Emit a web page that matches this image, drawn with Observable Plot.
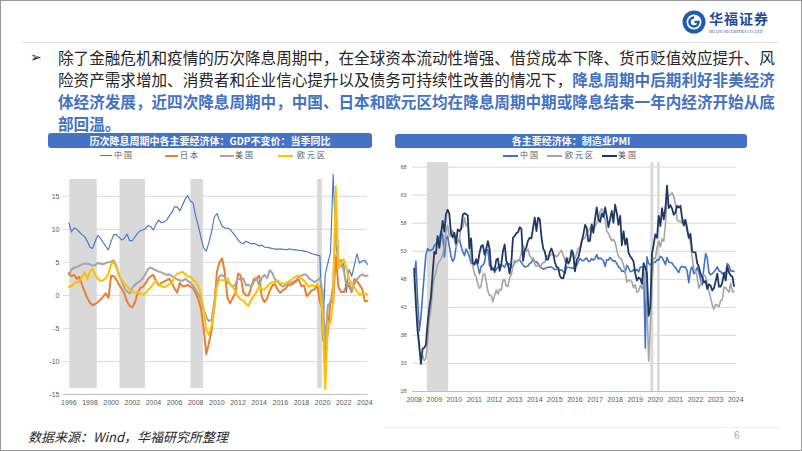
<!DOCTYPE html>
<html lang="zh-CN">
<head>
<meta charset="utf-8">
<script src="https://cdn.jsdelivr.net/npm/d3@7"></script>
<script src="https://cdn.jsdelivr.net/npm/@observablehq/plot@0.6"></script>
<style>
html,body{margin:0;padding:0;background:#fff;}
#slide{position:relative;width:802px;height:451px;box-sizing:border-box;border:1px solid #9a9a9a;overflow:hidden;font-family:"Noto Sans CJK SC","Noto Sans",sans-serif;background:#fff;}
.abs{position:absolute;}
#hdrline{left:20px;top:41px;width:758px;height:1px;background:#e6e6e6;}
#bullet{left:29px;top:45px;font-family:"DejaVu Sans";font-size:14px;color:#262626;line-height:22px;}
#body{left:57px;top:45px;font-size:16px;line-height:22px;color:#262626;}
#body .ln{display:block;white-space:nowrap;transform:scaleX(0.974);transform-origin:0 50%;}
#body .hl{color:#4472C4;font-weight:700;}
.tbar{background:#4472C4;color:#fff;font-weight:700;font-size:10px;text-align:center;border-radius:3px;line-height:15px;height:15px;white-space:nowrap;}
.legtxt{font-size:8px;color:#595959;letter-spacing:2px;line-height:10px;white-space:nowrap;}
.sw{height:0;}
#foot{left:27px;top:427px;font-size:13px;font-style:italic;color:#262626;line-height:18px;white-space:nowrap;}
#pg{left:733px;top:429px;font-size:10px;color:#a6a6a6;font-family:"Liberation Sans";}
#footline{left:383px;top:426px;width:395px;height:1px;background:#eeeeee;}
.chart{position:absolute;}
.chart svg{overflow:visible;}
</style>
</head>
<body>
<div id="slide">
  <svg class="abs" style="left:681px;top:9px" width="24" height="24" viewBox="0 0 24 24">
    <circle cx="12" cy="12" r="11.5" fill="#1f5bb5"/>
    <circle cx="12" cy="12" r="7.5" fill="#fff"/>
    <path d="M12 7.5 A4.5 4.5 0 1 0 16.5 12 L12.5 12" fill="none" stroke="#1f5bb5" stroke-width="2.6"/>
  </svg>
  <div class="abs" style="left:708px;top:9px;font-size:14px;font-weight:700;color:#1e4b9b;letter-spacing:1px;line-height:17px;font-family:'Noto Sans CJK SC'">华福证券</div>
  <div class="abs" style="left:708px;top:28px;font-size:4px;color:#1e4b9b;line-height:5px;white-space:nowrap;font-family:'Liberation Serif'">HUAFU SECURITIES CO.,LTD</div>
  <div id="hdrline" class="abs"></div>

  <div id="bullet" class="abs">➢</div>
  <div id="body" class="abs">
    <div class="ln">除了金融危机和疫情的历次降息周期中，在全球资本流动性增强、借贷成本下降、货币贬值效应提升、风</div>
    <div class="ln">险资产需求增加、消费者和企业信心提升以及债务可持续性改善的情况下，<span class="hl">降息周期中后期利好非美经济</span></div>
    <div class="ln hl">体经济发展，近四次降息周期中，中国、日本和欧元区均在降息周期中期或降息结束一年内经济开始从底</div>
    <div class="ln hl">部回温。</div>
  </div>

  <div class="abs tbar" style="left:47px;top:132px;width:324px;">历次降息周期中各主要经济体：GDP不变价：当季同比</div>
  <div class="abs tbar" style="left:394px;top:133px;width:352px;height:14px;line-height:14px;">各主要经济体：制造业PMI</div>

  <div id="legL"></div>
  <div id="legR"></div>

  <div id="chartL" class="chart" style="left:19px;top:159px;"></div>
  <div id="chartR" class="chart" style="left:394px;top:159px;"></div>

  <div id="footline" class="abs"></div>
  <div id="foot" class="abs">数据来源：Wind，华福研究所整理</div>
  <div id="pg" class="abs">6</div>
</div>

<script>
// ---------------- Left chart data: quarterly real GDP YoY (%), 1996Q1 – 2024Q2 ----------------
const gdpFirstQuarter = "1996-01-01";
const gdpSeriesNames = ["中国", "日本", "美国", "欧元区"];
const gdpChina = [
  11.0, 9.6, 10.2, 10.0,   9.6, 9.2, 8.9, 8.2,   7.3, 7.1, 8.2, 9.1,   8.6, 8.0, 7.4, 6.9,
  8.2, 9.2, 9.2, 8.8,   8.4, 8.6, 9.3, 8.3,   8.3, 8.8, 9.4, 9.8,   9.9, 10.1, 10.6, 10.4,
  9.9, 10.8, 11.4, 11.0,   11.1, 11.4, 12.0, 12.6,   13.4, 13.4, 12.8, 13.6,   14.6, 15.1, 14.3, 14.0,
  12.0, 10.5, 8.8, 7.2,   6.7, 8.0, 9.6, 11.8,   12.4, 11.4, 10.5, 10.2,   10.2, 10.0, 9.5, 9.0,
  8.4, 8.0, 7.8, 8.2,   8.0, 7.8, 7.9, 7.7,   7.5, 7.6, 7.3, 7.3,   7.2, 7.1, 7.0, 7.0,
  7.0, 7.0, 6.9, 7.0,   7.0, 6.9, 6.9, 6.8,   6.8, 6.7, 6.6, 6.5,   6.3, 6.2, 6.1, 6.0,
  -6.8, 3.2, 4.9, 6.5,   18.3, 7.9, 4.9, 4.3,   4.8, 0.4, 3.9, 2.9,   4.5, 6.3, 4.9, 5.2,
  5.3, 4.7
];
const gdpJapan = [
  3.4, 2.9, 3.1, 2.5,   2.8, 1.6, 0.6, -0.4,   -1.1, -1.5, -1.3, -1.0,   -0.6, -0.2, 0.3, -0.4,
  3.0, 2.9, 2.4, 1.6,   1.0, 0.3, -0.9, -1.6,   -1.8, -1.1, 0.3, 1.1,   1.3, 1.8, 2.5, 2.9,
  3.1, 2.2, 1.5, 1.9,   2.1, 2.3, 2.5, 1.9,   1.0, 0.4, 1.9, 1.4,   1.4, 1.6, 1.3, 1.1,
  0.3, -0.6, -2.0, -5.0,   -8.9, -7.2, -5.4, -1.9,   3.5, 5.0, 5.6, 3.5,   -0.4, -1.2, -0.4, 0.3,
  3.3, 3.0, 0.5, 0.0,   0.0, 1.2, 2.5, 2.6,   3.0, -0.2, -1.0, -0.5,   0.7, 1.5, 1.7, 0.9,
  0.4, 0.8, 1.0, 1.6,   1.6, 1.8, 2.1, 2.4,   1.4, 1.5, -0.1, 0.3,   0.8, 0.9, 1.7, -1.0,
  -2.0, -10.0, -5.4, -0.8,   -1.2, 6.0, 1.3, 0.5,   0.5, 1.5, 1.4, 0.5,   2.5, 2.2, 1.6, 1.0,
  -0.9, -0.8
];
const gdpUS = [
  3.1, 3.9, 4.2, 4.3,   4.5, 4.7, 4.8, 4.8,   4.7, 4.5, 4.6, 4.9,   4.8, 4.7, 4.9, 5.0,
  5.1, 5.3, 4.5, 3.0,   2.3, 1.2, 0.6, 0.3,   1.1, 1.6, 1.9, 2.2,   2.6, 3.2, 4.0, 4.2,
  4.0, 3.8, 3.6, 3.5,   3.3, 3.1, 3.2, 2.9,   2.7, 2.4, 2.3, 2.2,   2.5, 2.2, 1.9, 1.5,
  0.8, 0.2, -0.6, -2.2,   -3.3, -3.9, -3.7, -1.1,   1.9, 2.9, 3.1, 2.8,   1.9, 1.7, 1.3, 1.7,
  2.6, 2.4, 2.6, 1.5,   1.6, 1.3, 2.0, 2.6,   1.5, 2.6, 3.1, 2.6,   3.8, 3.4, 2.4, 2.2,
  1.6, 1.3, 1.6, 2.0,   1.9, 2.1, 2.3, 2.8,   3.0, 3.2, 3.1, 2.5,   2.3, 2.0, 2.3, 2.6,
  0.7, -7.5, -1.5, -1.1,   1.6, 12.0, 5.0, 5.4,   3.7, 1.8, 1.9, 0.9,   1.7, 2.4, 2.9, 3.2,
  2.9, 3.0
];
const gdpEuro = [
  1.3, 1.4, 1.8, 2.0,   2.0, 2.8, 3.5, 2.5,   3.6, 4.0, 3.1, 2.5,   2.2, 2.3, 2.6, 3.3,
  4.7, 5.0, 4.2, 3.0,   2.4, 1.8, 1.4, 0.9,   0.6, 0.4, 0.5, 0.2,   0.1, 0.3, 0.9, 1.2,
  1.8, 2.2, 1.7, 1.4,   1.2, 1.4, 1.7, 1.9,   2.8, 3.3, 3.4, 3.6,   3.2, 2.8, 2.9, 2.3,
  2.1, 1.4, 0.2, -2.0,   -5.2, -6.0, -4.6, -2.2,   1.2, 2.3, 2.3, 2.3,   2.6, 1.7, 1.3, 0.6,
  -0.2, -0.6, -0.8, -1.2,   -1.6, -0.6, -0.1, 0.5,   1.4, 0.9, 0.9, 1.3,   1.8, 2.0, 2.0, 2.2,
  1.9, 1.8, 1.8, 2.1,   2.3, 2.6, 2.9, 3.0,   2.5, 2.2, 1.7, 1.3,   1.6, 1.3, 1.7, 1.1,
  -3.0, -14.2, -4.0, -4.2,   -0.8, 16.5, 4.0, 4.8,   5.5, 4.2, 2.5, 1.8,   1.3, 0.6, 0.1, 0.2,
  0.3, 0.1
];
const gdpCutPeriods = [
  ["1996-02-01", "1998-09-10"],
  ["2000-11-01", "2003-04-01"],
  ["2007-07-22", "2008-09-28"],
  ["2019-07-15", "2019-12-25"]
];
const gdpTickYears = [1996,1998,2000,2002,2004,2006,2008,2010,2012,2014,2016,2018,2020,2022,2024];
const gdpYTicks = [-15, -10, -5, 0, 5, 10, 15];

// ---------------- Right chart data: monthly manufacturing PMI, 2008-08 – 2024-07 ----------------
const pmiFirstMonth = "2008-08-01";
const pmiSeriesNames = ["中国", "欧元区", "美国"];
const pmiChina = [
  48.4, 51.2, 44.6, 38.8, 41.2,
  45.3, 49.0, 52.4, 53.5, 53.1, 53.2, 53.3, 54.0, 54.3, 55.2, 55.2, 56.6,
  55.8, 52.0, 55.1, 55.7, 53.9, 52.1, 51.2, 51.7, 53.8, 54.7, 55.2, 53.9,
  52.9, 52.2, 53.4, 52.9, 52.0, 50.9, 50.7, 50.9, 51.2, 50.4, 49.0, 50.3,
  50.5, 51.0, 53.1, 53.3, 50.4, 50.2, 50.1, 49.2, 49.8, 50.2, 50.6, 50.6,
  50.4, 50.1, 50.9, 50.6, 50.8, 50.1, 50.3, 51.0, 51.1, 51.4, 51.4, 51.0,
  50.5, 50.2, 50.3, 50.4, 50.8, 51.0, 51.7, 51.1, 51.1, 50.8, 50.3, 50.1,
  49.8, 49.9, 50.1, 50.1, 50.2, 50.2, 50.0, 49.7, 49.8, 49.8, 49.6, 49.7,
  49.4, 49.0, 50.2, 50.1, 50.1, 50.0, 49.9, 50.4, 50.4, 51.2, 51.7, 51.4,
  51.3, 51.6, 51.8, 51.2, 51.2, 51.7, 51.4, 51.7, 52.4, 51.6, 51.8, 51.6,
  51.3, 50.3, 51.5, 51.4, 51.9, 51.5, 51.2, 51.3, 50.8, 50.2, 50.0, 49.4,
  49.5, 49.2, 50.5, 50.1, 49.4, 49.4, 49.7, 49.5, 49.8, 49.3, 50.2, 50.2,
  50.0, 35.7, 52.0, 50.8, 50.6, 50.9, 51.1, 51.0, 51.5, 51.4, 52.1, 51.9,
  51.3, 50.6, 51.9, 51.1, 51.0, 50.9, 50.4, 50.1, 49.6, 49.2, 50.1, 50.3,
  50.1, 50.2, 49.5, 47.4, 49.6, 50.2, 49.0, 49.4, 50.1, 49.2, 48.0, 47.0,
  50.1, 52.6, 51.9, 49.2, 48.8, 49.0, 49.3, 49.7, 50.2, 49.5, 49.4, 49.0,
  49.2, 49.1, 50.8, 50.4, 49.5, 49.5, 49.4
];
const pmiEuro = [
  47.6, 45.0, 41.1, 35.6, 33.9,
  34.4, 33.5, 33.9, 36.8, 40.7, 42.6, 46.3, 48.2, 49.3, 50.7, 51.2, 51.6,
  52.4, 54.2, 56.6, 57.6, 55.8, 55.6, 56.7, 55.1, 53.7, 54.6, 55.3, 57.1,
  57.3, 59.0, 57.5, 58.0, 54.6, 52.0, 50.4, 49.0, 48.5, 47.1, 46.4, 46.9,
  48.8, 49.0, 47.7, 45.9, 45.1, 45.1, 44.0, 45.1, 46.1, 45.4, 46.2, 46.1,
  47.9, 47.9, 46.8, 46.7, 48.3, 48.8, 50.3, 51.4, 51.1, 51.3, 51.6, 52.7,
  54.0, 53.2, 53.0, 53.4, 52.2, 51.8, 51.8, 50.7, 50.3, 50.6, 50.1, 50.6,
  51.0, 51.0, 52.2, 52.0, 52.2, 52.5, 52.4, 52.3, 52.0, 52.3, 52.8, 53.2,
  52.3, 51.2, 51.6, 51.7, 51.5, 52.8, 52.0, 51.7, 52.6, 53.5, 53.7, 54.9,
  55.2, 55.4, 56.2, 56.7, 57.0, 57.4, 56.6, 57.4, 58.1, 58.5, 60.1, 60.6,
  59.6, 58.6, 56.6, 56.2, 55.5, 54.9, 55.1, 54.6, 53.2, 52.0, 51.8, 51.4,
  50.5, 49.3, 47.5, 47.9, 47.7, 47.6, 46.5, 47.0, 45.7, 45.9, 46.9, 46.3,
  47.9, 49.2, 44.5, 33.4, 39.4, 47.4, 51.8, 51.7, 53.7, 54.8, 53.8, 55.2,
  54.8, 57.9, 62.5, 62.9, 63.1, 63.4, 62.8, 61.4, 58.6, 58.3, 58.4, 58.0,
  58.7, 58.2, 56.5, 55.5, 54.6, 52.1, 49.8, 49.6, 48.4, 46.4, 47.1, 47.8,
  48.8, 48.5, 47.3, 45.8, 44.8, 43.4, 42.7, 43.5, 43.4, 43.1, 44.2, 44.4,
  46.6, 46.5, 46.1, 45.7, 47.3, 45.8, 45.8
];
const pmiUS = [
  49.9, 43.5, 38.9, 36.2, 32.9,
  35.6, 35.8, 36.3, 40.1, 42.8, 44.8, 48.9, 52.9, 52.6, 55.7, 53.6, 55.9,
  58.4, 56.5, 59.6, 60.4, 59.7, 56.2, 55.5, 56.3, 54.4, 56.9, 56.6, 57.0,
  59.5, 59.8, 59.6, 59.4, 53.5, 55.3, 50.9, 50.6, 51.6, 50.8, 52.7, 53.9,
  54.1, 52.4, 53.4, 54.8, 53.5, 49.7, 49.8, 49.6, 51.5, 51.7, 49.5, 50.7,
  53.1, 54.2, 51.3, 50.7, 49.0, 50.9, 55.4, 55.7, 56.2, 56.4, 57.3, 57.0,
  51.3, 53.2, 53.7, 54.9, 55.4, 55.3, 57.1, 59.0, 56.6, 59.0, 58.7, 55.5,
  53.5, 52.9, 51.5, 51.5, 52.8, 53.5, 52.7, 51.1, 50.2, 50.1, 48.6, 48.2,
  48.2, 49.5, 51.8, 50.8, 51.3, 53.2, 52.6, 49.4, 51.5, 51.9, 53.2, 54.7,
  56.0, 57.7, 57.2, 54.8, 54.9, 57.8, 56.3, 58.8, 60.8, 58.7, 58.2, 59.7,
  59.1, 60.8, 59.3, 57.3, 58.7, 60.2, 58.1, 61.3, 59.8, 57.7, 59.3, 54.1,
  56.6, 54.2, 55.3, 52.8, 52.1, 51.7, 51.2, 49.1, 47.8, 48.3, 48.1, 47.2,
  50.9, 50.1, 49.1, 41.5, 43.1, 52.6, 54.2, 56.0, 55.4, 59.3, 57.5, 60.7,
  58.7, 60.8, 64.7, 60.7, 61.2, 60.6, 59.5, 59.9, 61.1, 60.8, 61.1, 58.8,
  57.6, 58.6, 57.1, 55.4, 56.1, 53.0, 52.8, 52.8, 50.9, 50.2, 49.0, 48.4,
  47.4, 47.7, 46.3, 47.1, 46.9, 46.0, 46.4, 47.6, 49.0, 46.7, 46.7, 47.4,
  49.1, 47.8, 50.3, 49.2, 48.7, 48.5, 46.8
];
const pmiCutPeriods = [
  ["2009-03-29", "2010-04-19"],
  ["2020-05-10", "2020-07-04"],
  ["2020-09-10", "2020-10-27"]
];
const pmiTickYears = [2008,2009,2010,2011,2012,2013,2014,2015,2016,2017,2018,2019,2020,2021,2022,2023,2024];
const pmiYTicks = [28, 33, 38, 43, 48, 53, 58, 63, 68];

// ---------------- build tables ----------------
const gdpColors = {"中国": "#4472C4", "日本": "#ED7D31", "美国": "#A5A5A5", "欧元区": "#FFC000"};
const pmiColors = {"中国": "#4472C4", "欧元区": "#A5A5A5", "美国": "#1F3864"};

const q0 = new Date(gdpFirstQuarter);
const gdpRows = [];
[gdpChina, gdpJapan, gdpUS, gdpEuro].forEach((arr, k) => {
  arr.forEach((v, i) => gdpRows.push({date: d3.utcMonth.offset(q0, 3 * i), series: gdpSeriesNames[k], value: v}));
});
const m0 = new Date(pmiFirstMonth);
const pmiRows = [];
[pmiChina, pmiEuro, pmiUS].forEach((arr, k) => {
  arr.forEach((v, i) => pmiRows.push({date: d3.utcMonth.offset(m0, i), series: pmiSeriesNames[k], value: v}));
});
const gdpBands = gdpCutPeriods.map(([a, b]) => ({start: new Date(a), end: new Date(b)}));
const pmiBands = pmiCutPeriods.map(([a, b]) => ({start: new Date(a), end: new Date(b)}));
const gdpTicks = gdpTickYears.map(y => new Date(Date.UTC(y, 0, 1)));
const pmiTicks = pmiTickYears.map(y => new Date(Date.UTC(y, 7, 1)));

const axisFont = "Liberation Sans, Arial, sans-serif";

// ---------------- left chart ----------------
const leftPlot = Plot.plot({
  width: 360, height: 251,
  marginLeft: 43, marginRight: 13, marginTop: 16, marginBottom: 17,
  x: {type: "utc", domain: [new Date("1995-07-01"), new Date("2024-04-01")]},
  y: {domain: [-15, 18]},
  style: {background: "transparent", fontFamily: axisFont, overflow: "visible"},
  marks: [
    Plot.rect(gdpBands, {x1: "start", x2: "end", fill: "#D9D9D9", insetTop: 3, insetBottom: 6}),
    Plot.gridY(gdpYTicks.slice(1), {stroke: "#D9D9D9", strokeOpacity: 1}),
    Plot.ruleY(gdpYTicks.slice(0, 1), {stroke: "#BFBFBF"}),
    Plot.axisY(gdpYTicks, {tickSize: 0, tickPadding: 4, tickFormat: d => `${d}`, fontSize: 7, fill: "#595959", label: null}),
    Plot.axisX(gdpTicks, {tickSize: 0, tickPadding: 6, tickFormat: d3.utcFormat("%Y"), fontSize: 7, fill: "#595959", label: null}),
    Plot.line(gdpRows.filter(d => d.series === "中国"), {x: "date", y: "value", stroke: gdpColors["中国"], strokeWidth: 1.1, strokeLinejoin: "round"}),
    Plot.line(gdpRows.filter(d => d.series === "日本"), {x: "date", y: "value", stroke: gdpColors["日本"], strokeWidth: 2, strokeLinejoin: "round"}),
    Plot.line(gdpRows.filter(d => d.series === "美国"), {x: "date", y: "value", stroke: gdpColors["美国"], strokeWidth: 2, strokeLinejoin: "round"}),
    Plot.line(gdpRows.filter(d => d.series === "欧元区"), {x: "date", y: "value", stroke: gdpColors["欧元区"], strokeWidth: 2, strokeLinejoin: "round"})
  ]
});
document.getElementById("chartL").appendChild(leftPlot);

// ---------------- right chart ----------------
const rightPlot = Plot.plot({
  width: 360, height: 251,
  marginLeft: 17, marginRight: 19, marginTop: 1, marginBottom: 20,
  x: {type: "utc", domain: [new Date("2008-07-01"), new Date("2024-08-15")]},
  y: {domain: [28, 69]},
  style: {background: "transparent", fontFamily: axisFont, overflow: "visible"},
  marks: [
    Plot.rect(pmiBands, {x1: "start", x2: "end", fill: "#D9D9D9", insetTop: 1}),
    Plot.gridY(pmiYTicks.slice(1), {stroke: "#D9D9D9", strokeOpacity: 1}),
    Plot.ruleY(pmiYTicks.slice(0, 1), {stroke: "#BFBFBF"}),
    Plot.axisY(pmiYTicks, {tickSize: 0, tickPadding: 6, fontSize: 5.5, fill: "#595959", label: null}),
    Plot.axisX(pmiTicks, {tickSize: 0, tickPadding: 6, tickFormat: d3.utcFormat("%Y"), fontSize: 7, fill: "#595959", label: null}),
    Plot.line(pmiRows.filter(d => d.series === "中国"), {x: "date", y: "value", stroke: pmiColors["中国"], strokeWidth: 1.6, strokeLinejoin: "round"}),
    Plot.line(pmiRows.filter(d => d.series === "欧元区"), {x: "date", y: "value", stroke: pmiColors["欧元区"], strokeWidth: 1.6, strokeLinejoin: "round"}),
    Plot.line(pmiRows.filter(d => d.series === "美国"), {x: "date", y: "value", stroke: pmiColors["美国"], strokeWidth: 1.8, strokeLinejoin: "round"})
  ]
});
document.getElementById("chartR").appendChild(rightPlot);

// ---------------- legends (HTML) ----------------
function legend(containerId, names, colors, widths, items) {
  const c = document.getElementById(containerId);
  names.forEach((n, i) => {
    const it = items[i];
    const sw = document.createElement("div");
    sw.className = "abs sw";
    sw.style.cssText = `left:${it[0]}px;top:${154.5 - widths[i] / 2}px;width:${it[1]}px;border-top:${widths[i]}px solid ${colors[n]};`;
    c.appendChild(sw);
    const t = document.createElement("div");
    t.className = "abs legtxt";
    t.style.cssText = `left:${it[2]}px;top:149px;`;
    t.textContent = n;
    c.appendChild(t);
  });
}
legend("legL", gdpSeriesNames, gdpColors, [1, 2, 2, 2], [[99, 12, 113], [164, 13, 179], [219, 14, 234], [277, 15, 296]]);
legend("legR", pmiSeriesNames, pmiColors, [2, 2, 2], [[502, 15, 519], [546, 15, 564], [601, 15, 617]]);
</script>
</body>
</html>
